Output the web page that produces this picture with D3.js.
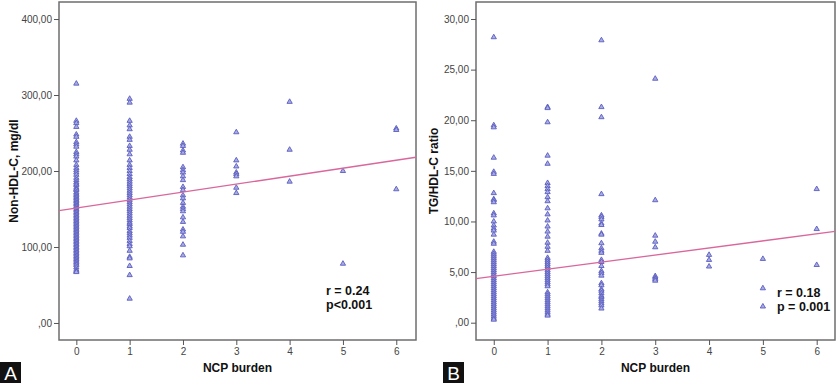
<!DOCTYPE html>
<html><head><meta charset="utf-8">
<script src="https://cdn.jsdelivr.net/npm/d3@7"></script>
<style>body{margin:0;background:#fff}svg{display:block}</style>
</head><body>
<svg id="c" width="839" height="383"></svg>
<script>
const xCategories = [0,1,2,3,4,5,6];
const xTickLabels = ["0","1","2","3","4","5","6"];
// Panel A: Non-HDL-C (mg/dl) by NCP burden
const nonHdl0 = [315,266,263,258,248,245,238,235,232,225,222,219,214,208,204,201,198,195,191,188,185,183,181,178,176,175,172,170,168,166,164,162,160,158,156,154,152,150,148,146,144,142,140,138,136,134,132,130,128,126,124,122,120,118,116,114,112,110,108,106,104,102,100,98,96,94,92,90,88,86,84,82,80,78,76,73,70,68,67];
const nonHdl1 = [295,290,266,260,255,245,241,233,228,222,214,208,204,200,196,192,189,186,183,180,177,174,171,168,165,162,159,156,153,150,147,144,141,138,135,132,130,127,125,121,118,115,112,108,104,101,95,87,85,75,63,32];
const nonHdl2 = [236,233,227,224,205,201,198,193,188,179,175,168,164,158,153,150,147,139,133,123,120,114,103,89];
const nonHdl3 = [251,214,206,198,196,193,178,171];
const nonHdl4 = [291,228,186];
const nonHdl5 = [200,78];
const nonHdl6 = [256,254,176];
const nonHdlFit = [151.2, 10.5]; // intercept, slope
// Panel B: TG/HDL-C ratio by NCP burden
const tgHdl0 = [28.2,19.5,19.3,16.3,14.9,14.7,12.8,12.2,12.1,11.9,10.8,10.6,10.0,9.6,9.3,9.1,8.7,8.0,7.8,7.0,6.8,6.6,6.4,6.2,6.0,5.8,5.6,5.4,5.2,5.0,4.8,4.6,4.4,4.2,4.0,3.8,3.6,3.4,3.2,3.0,2.8,2.6,2.4,2.2,2.0,1.8,1.6,1.4,1.2,1.0,0.8,0.6,0.4,0.3];
const tgHdl1 = [21.3,21.2,19.8,16.5,15.7,13.8,13.5,13.2,12.9,12.4,12.0,11.3,10.7,10.1,9.5,9.0,8.5,7.9,7.5,7.1,6.4,6.2,6.0,5.8,5.6,5.4,5.2,5.0,4.8,4.6,4.4,4.2,4.0,3.8,3.6,3.0,2.8,2.6,2.4,2.2,2.0,1.8,1.6,1.4,1.2,1.0,0.8,0.7];
const tgHdl2 = [27.9,21.3,20.3,12.7,10.6,10.45,10.2,9.8,9.65,8.8,8.7,7.85,7.35,7.1,6.9,6.2,6.0,5.6,5.1,4.9,4.65,3.9,3.7,3.3,3.15,2.9,2.65,2.5,2.3,2.1,1.9,1.7,1.4];
const tgHdl3 = [24.1,12.1,8.6,8.0,7.45,4.6,4.45,4.3,4.15];
const tgHdl4 = [6.7,6.2,5.55];
const tgHdl5 = [6.3,3.4,1.6];
const tgHdl6 = [13.2,9.25,5.7];
const tgHdlFit = [4.58, 0.70];

const nonHdlTicks = [0,100,200,300,400];
const tgHdlTicks = [0,5,10,15,20,25,30];

const fmt = v => v === 0 ? ",00" : v.toFixed(2).replace(".", ",");

const svg = d3.select("#c");
const markerColor = "#5a5ebf";
const lineColor = "#d9679c";

function panel(o) {
  const g = svg.append("g");
  const x = d3.scaleLinear().domain(o.xDom).range([o.left, o.right]);
  const y = d3.scaleLinear().domain(o.yDom).range([o.bottom, o.top]);
  g.append("rect").attr("x", o.left).attr("y", o.top)
    .attr("width", o.right - o.left).attr("height", o.bottom - o.top)
    .attr("fill", "#fff").attr("stroke", "#6e6e6e").attr("stroke-width", 1.5);
  const ya = g.append("g").attr("transform", `translate(${o.left},0)`)
    .call(d3.axisLeft(y).tickValues(o.yTicks).tickFormat(fmt).tickSize(5).tickPadding(2));
  ya.select(".domain").remove();
  ya.selectAll("line").attr("stroke", "#555");
  ya.selectAll("text").attr("font-family", "Liberation Sans, Arial, sans-serif").attr("font-size", 10).attr("fill", "#444");
  const xa = g.append("g").attr("transform", `translate(0,${o.bottom})`)
    .call(d3.axisBottom(x).tickValues(xCategories).tickFormat((d,i) => xTickLabels[i]).tickSize(5).tickPadding(3));
  xa.select(".domain").remove();
  xa.selectAll("line").attr("stroke", "#555");
  xa.selectAll("text").attr("font-family", "Liberation Sans, Arial, sans-serif").attr("font-size", 10).attr("fill", "#444");
  const pts = [];
  o.series.forEach((arr, i) => arr.forEach(v => pts.push([xCategories[i], v])));
  const sym = d3.symbol().type(d3.symbolTriangle).size(12);
  g.append("g").selectAll("path").data(pts).join("path")
    .attr("d", sym)
    .attr("transform", d => `translate(${x(d[0])},${y(d[1])})`)
    .attr("fill", "#a9abe3").attr("stroke", markerColor).attr("stroke-width", 0.9);
  const [b0, b1] = o.fit;
  g.append("line")
    .attr("x1", x(o.xDom[0])).attr("y1", y(b0 + b1 * o.xDom[0]))
    .attr("x2", x(o.xDom[1])).attr("y2", y(b0 + b1 * o.xDom[1]))
    .attr("stroke", lineColor).attr("stroke-width", 1.3);
  g.append("text").attr("x", (o.left + o.right) / 2).attr("y", 372)
    .attr("text-anchor", "middle").attr("font-family", "Liberation Sans, Arial, sans-serif")
    .attr("font-weight", "bold").attr("font-size", 12).attr("fill", "#111").text("NCP burden");
  g.append("text").attr("transform", `translate(${o.yTitleX},${(o.top + o.bottom) / 2}) rotate(-90)`)
    .attr("text-anchor", "middle").attr("font-family", "Liberation Sans, Arial, sans-serif")
    .attr("font-weight", "bold").attr("font-size", 12).attr("fill", "#111").text(o.yTitle);
  o.notes.forEach((t, i) => {
    g.append("text").attr("x", o.noteX).attr("y", o.noteY + i * 14)
      .attr("font-family", "Liberation Sans, Arial, sans-serif").attr("font-weight", "bold")
      .attr("font-size", 12.5).attr("fill", "#111").text(t);
  });
  g.append("rect").attr("x", o.letterX).attr("y", 362).attr("width", 21).attr("height", 21).attr("fill", "#111");
  g.append("text").attr("x", o.letterX + 10.5).attr("y", 380).attr("text-anchor", "middle")
    .attr("font-family", "Liberation Sans, Arial, sans-serif").attr("font-size", 19).attr("fill", "#fff").text(o.letter);
}

panel({
  left: 59, right: 416, top: 2, bottom: 340,
  xDom: [-0.325, 6.37], yDom: [-22.4, 422.4], yTicks: nonHdlTicks,
  series: [nonHdl0, nonHdl1, nonHdl2, nonHdl3, nonHdl4, nonHdl5, nonHdl6],
  fit: nonHdlFit, yTitle: "Non-HDL-C, mg/dl", yTitleX: 18,
  notes: ["r = 0.24", "p<0.001"], noteX: 326, noteY: 295,
  letter: "A", letterX: 0
});
panel({
  left: 476, right: 835, top: 2, bottom: 340,
  xDom: [-0.33, 6.34], yDom: [-1.71, 31.68], yTicks: tgHdlTicks,
  series: [tgHdl0, tgHdl1, tgHdl2, tgHdl3, tgHdl4, tgHdl5, tgHdl6],
  fit: tgHdlFit, yTitle: "TG/HDL-C ratio", yTitleX: 438,
  notes: ["r = 0.18", "p = 0.001"], noteX: 777, noteY: 297,
  letter: "B", letterX: 443
});
</script>
</body></html>
